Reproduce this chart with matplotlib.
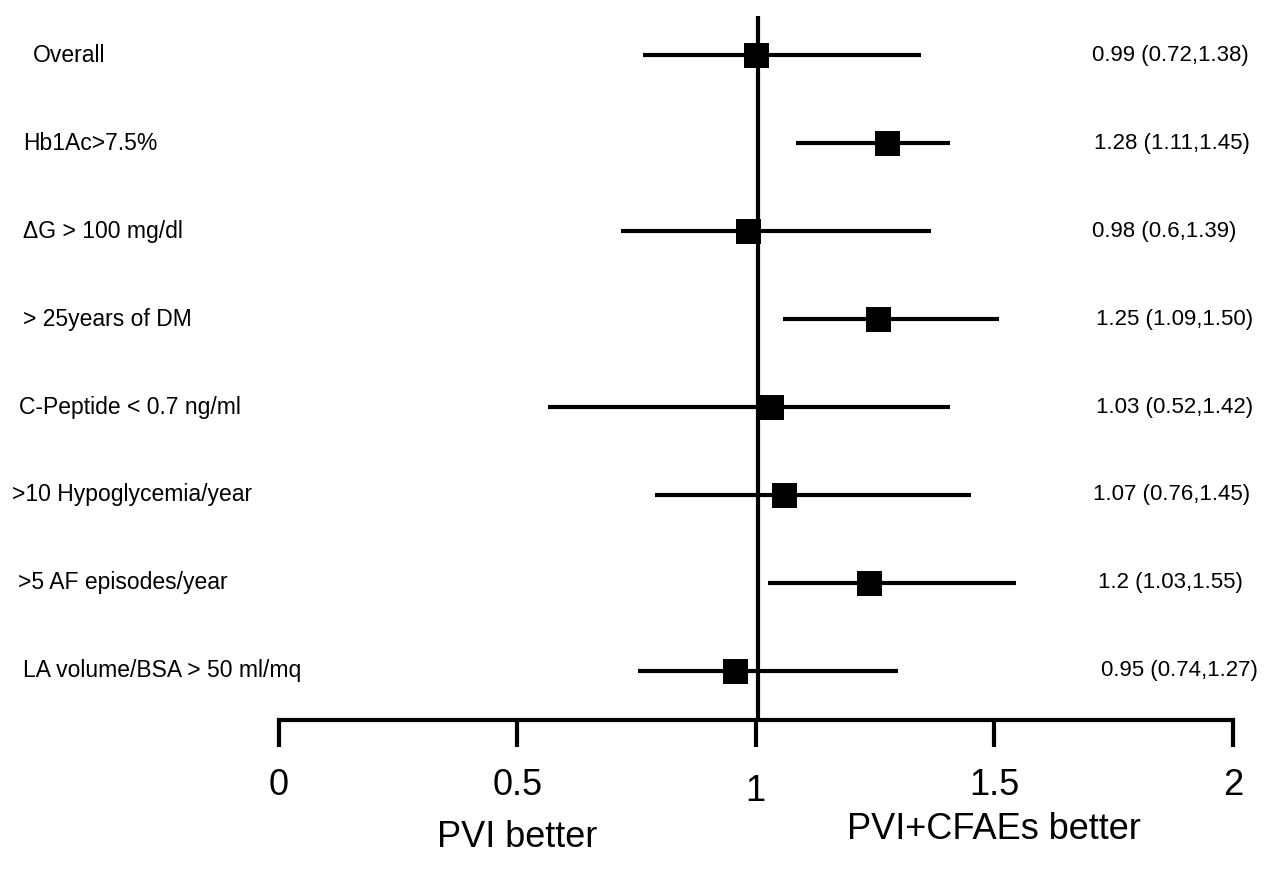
import matplotlib
matplotlib.use("Agg")
import matplotlib.pyplot as plt
import matplotlib.transforms as mtransforms

plt.rcParams['font.family'] = ['Liberation Sans', 'DejaVu Sans']

# subgroups, top to bottom
subgroups = ['Overall', 'Hb1Ac>7.5%', '\u0394G > 100 mg/dl', '> 25years of DM',
             'C-Peptide < 0.7 ng/ml', '>10 Hypoglycemia/year',
             '>5 AF episodes/year', 'LA volume/BSA > 50 ml/mq']
# values as drawn in the figure
estimate = [1.00, 1.275, 0.983, 1.257, 1.031, 1.060, 1.237, 0.956]
ci_low = [0.764, 1.085, 0.718, 1.057, 0.564, 0.788, 1.026, 0.753]
ci_high = [1.346, 1.408, 1.367, 1.510, 1.408, 1.451, 1.546, 1.299]
# printed labels on the right
ci_text = ['0.99 (0.72,1.38)', '1.28 (1.11,1.45)', '0.98 (0.6,1.39)',
           '1.25 (1.09,1.50)', '1.03 (0.52,1.42)', '1.07 (0.76,1.45)',
           '1.2 (1.03,1.55)', '0.95 (0.74,1.27)']
xticks = [0, 0.5, 1, 1.5, 2]
xticklabels = ['0', '0.5', '1', '1.5', '2']

# left edges of the text columns, in pixels
label_x_px = [33, 23, 23, 23, 19, 12, 18, 23]
right_x_px = [1092, 1094, 1092, 1096, 1096, 1093, 1098, 1101]

W, H = 1271, 869
fig = plt.figure(figsize=(W / 100, H / 100), dpi=100)
ax = fig.add_axes([278.6 / W, 149 / H, (1233 - 278.6) / W, (853.4 - 149) / H])

rows = list(range(len(subgroups)))
ax.set_xlim(0, 2)
ax.set_ylim(7.557, -0.448)

ax.axvline(1.005, color='black', lw=3, zorder=2)
ax.hlines(rows, ci_low, ci_high, color='black', lw=3, zorder=3)
ax.plot(estimate, rows, 's', color='black', ms=18, mew=0, zorder=4)

for s in ['top', 'right', 'left']:
    ax.spines[s].set_visible(False)
ax.spines['bottom'].set_linewidth(3)
ax.set_yticks([])
ax.set_xticks(xticks)
ax.set_xticklabels(xticklabels)
ax.tick_params(axis='x', direction='out', length=19.5, width=3, pad=15,
               labelsize=26)
# the "1" sits a little lower in the original
lab1 = ax.get_xticklabels()[2]
lab1.set_transform(lab1.get_transform() +
                   mtransforms.ScaledTranslation(0, -6 / 100, fig.dpi_scale_trans))

# row labels and ci text, x in figure pixels, y in data rows
trans = mtransforms.blended_transform_factory(fig.transFigure, ax.transData)
for i, r in enumerate(rows):
    ax.text(label_x_px[i] / W, r, subgroups[i], transform=trans,
            ha='left', va='center', fontsize=16.5)
    ax.text(right_x_px[i] / W, r, ci_text[i], transform=trans,
            ha='left', va='center', fontsize=16)

btrans = mtransforms.blended_transform_factory(ax.transData, fig.transFigure)
ax.text(0.5, 22 / H, 'PVI better', transform=btrans, ha='center',
        va='baseline', fontsize=26)
ax.text(1.5, 30 / H, 'PVI+CFAEs better', transform=btrans, ha='center',
        va='baseline', fontsize=26)

fig.savefig('out.png', dpi=100)
